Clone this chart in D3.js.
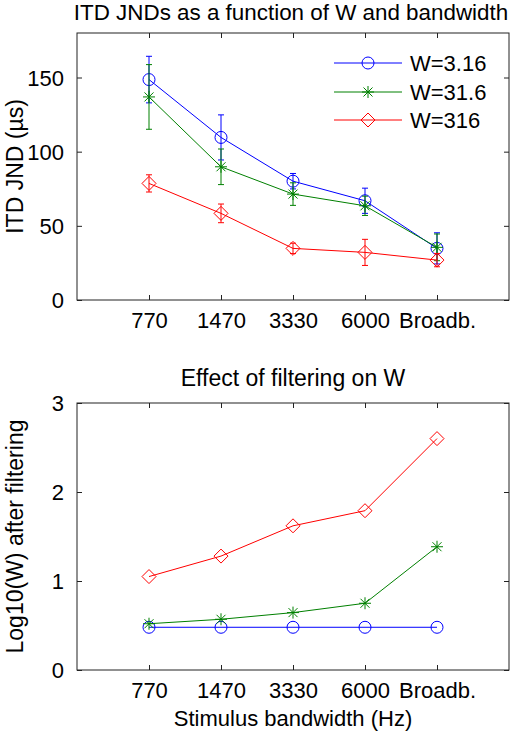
<!DOCTYPE html>
<html><head><meta charset="utf-8">
<script src="https://cdn.jsdelivr.net/npm/d3@7"></script>
<style>body{margin:0;background:#fff}text{font-family:Arial,"Liberation Sans",sans-serif;fill:#000}</style>
</head><body><svg id="c" width="511" height="731"></svg>
<script>
const categories = ["770","1470","3330","6000","Broadb."];
const seriesNames = ["W=3.16","W=31.6","W=316"];
const colors = ["#0000ff","#008000","#ff0000"];
const markers = ["circle","star","diamond"];
// Top panel: ITD JND (µs) and error bar half-lengths
const jnd316 = [148.6,109.6,80.1,66.9,34.8];
const err316 = [15.7,15.2,5.2,8.5,10.5];
const jnd31_6 = [136.9,89.8,71.4,63.5,35.5];
const err31_6 = [21.8,12,7.6,6.5,9];
const jnd3_16 = [78.6,58.4,34.8,32.1,26.9];
const err3_16 = [5.8,6.3,3.5,8.8,4.5];
// Bottom panel: log10(W) after filtering
const logW_316 = [0.48,0.48,0.48,0.48,0.48];
const logW_31_6 = [0.52,0.57,0.645,0.75,1.385];
const logW_3_16 = [1.05,1.28,1.62,1.79,2.60];
const topTicks = [0,50,100,150];
const botTicks = [0,1,2,3];

const topVals = [jnd316, jnd31_6, jnd3_16];
const topErr = [err316, err31_6, err3_16];
const botVals = [logW_316, logW_31_6, logW_3_16];

const svg = d3.select("#c");
const FS = 22, FT = 23;
const x = d3.scaleLinear().domain([0,6]).range([77,509]);
const yTop = d3.scaleLinear().domain([0,180]).range([300,33]);
const yBot = d3.scaleLinear().domain([0,3]).range([670,403]);

function drawMarker(g, type, cx, cy, color){
  if(type==="circle"){
    g.append("circle").attr("cx",cx).attr("cy",cy).attr("r",6)
      .attr("fill","none").attr("stroke",color).attr("stroke-width",1);
  } else if(type==="star"){
    const s=6, d=4.5;
    const p = d3.path();
    p.moveTo(cx-s,cy);p.lineTo(cx+s,cy);
    p.moveTo(cx,cy-s);p.lineTo(cx,cy+s);
    p.moveTo(cx-d,cy-d);p.lineTo(cx+d,cy+d);
    p.moveTo(cx-d,cy+d);p.lineTo(cx+d,cy-d);
    g.append("path").attr("d",p.toString()).attr("stroke",color).attr("stroke-width",1).attr("fill","none");
  } else {
    const s=7;
    g.append("path").attr("d",`M${cx},${cy-s}L${cx+s},${cy}L${cx},${cy+s}L${cx-s},${cy}Z`)
      .attr("fill","none").attr("stroke",color).attr("stroke-width",1);
  }
}

function panel(y, ticks, title, titleY, titleFS, titleX, ylabel, values, errs){
  const g = svg.append("g");
  const [x0,x1] = x.range(); const [y0,y1] = y.range();
  g.append("rect").attr("x",x0).attr("y",y1).attr("width",x1-x0).attr("height",y0-y1)
    .attr("fill","#fff").attr("stroke","#222").attr("stroke-width",1);
  const xs = [1,2,3,4,5];
  const ab = d3.axisBottom(x).tickValues(xs).tickSizeInner(-5).tickSizeOuter(0).tickFormat((d)=>categories[d-1]).tickPadding(12);
  const at = d3.axisTop(x).tickValues(xs).tickSizeInner(-5).tickSizeOuter(0).tickFormat("");
  const al = d3.axisLeft(y).tickValues(ticks).tickSizeInner(-5).tickSizeOuter(0).tickFormat(d3.format("d")).tickPadding(13);
  const ar = d3.axisRight(y).tickValues(ticks).tickSizeInner(-5).tickSizeOuter(0).tickFormat("");
  const gb = g.append("g").attr("transform",`translate(0,${y0})`).call(ab);
  const gt = g.append("g").attr("transform",`translate(0,${y1})`).call(at);
  const gl = g.append("g").attr("transform",`translate(${x0},0)`).call(al);
  const gr = g.append("g").attr("transform",`translate(${x1},0)`).call(ar);
  [gb,gt,gl,gr].forEach(a=>{a.select(".domain").remove();a.selectAll("line").attr("stroke","#222");
    a.selectAll("text").attr("font-size",FS).attr("font-family","Arial, 'Liberation Sans', sans-serif").attr("fill","#000");});
  gb.selectAll("text").attr("dy","0.71em");
  gl.selectAll("text").attr("dy","0.36em");
  svg.append("text").attr("x",titleX).attr("y",titleY).attr("text-anchor","middle").attr("font-size",titleFS).text(title);
  svg.append("text").attr("transform",`translate(23,${(y0+y1)/2}) rotate(-90)`).attr("text-anchor","middle").attr("font-size",FT).text(ylabel);
  values.forEach((vals,i)=>{
    const col = colors[i];
    const line = d3.line().x((d,j)=>x(j+1)).y(d=>y(d));
    g.append("path").attr("d",line(vals)).attr("fill","none").attr("stroke",col).attr("stroke-width",1);
    if(errs){
      vals.forEach((v,j)=>{
        const cx = x(j+1), e = errs[i][j];
        const p = d3.path();
        p.moveTo(cx,y(v-e));p.lineTo(cx,y(v+e));
        p.moveTo(cx-3,y(v+e));p.lineTo(cx+3,y(v+e));
        p.moveTo(cx-3,y(v-e));p.lineTo(cx+3,y(v-e));
        g.append("path").attr("d",p.toString()).attr("stroke",col).attr("stroke-width",1).attr("fill","none");
      });
    }
    vals.forEach((v,j)=>drawMarker(g,markers[i],x(j+1),y(v),col));
  });
  return g;
}

const gTop = panel(yTop, topTicks, "ITD JNDs as a function of W and bandwidth", 20, 22.4, 291, "ITD JND (\u00b5s)", topVals, topErr);
panel(yBot, botTicks, "Effect of filtering on W", 386, FT, 293, "Log10(W) after filtering", botVals, null);

const legRows = [63,92,120];
seriesNames.forEach((n,i)=>{
  const ly = legRows[i];
  gTop.append("line").attr("x1",334).attr("x2",402).attr("y1",ly).attr("y2",ly).attr("stroke",colors[i]).attr("stroke-width",1);
  drawMarker(gTop,markers[i],368,ly,colors[i]);
  gTop.append("text").attr("x",410).attr("y",ly).attr("dy","0.36em").attr("font-size",FS).text(n);
});

svg.append("text").attr("x",293).attr("y",726).attr("text-anchor","middle").attr("font-size",FS).text("Stimulus bandwidth (Hz)");
</script></body></html>
